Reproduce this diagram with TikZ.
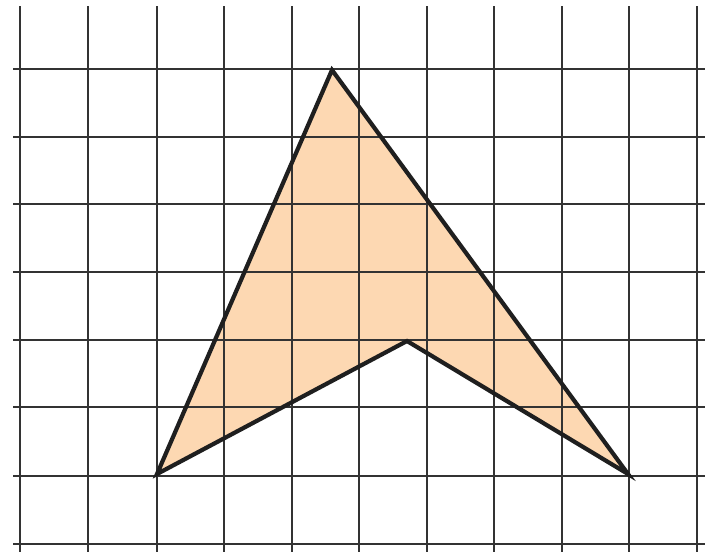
\documentclass[tikz,border=0pt]{standalone}
\begin{document}
\begin{tikzpicture}[x=1pt,y=-1pt,
  gridline/.style={line width=1.7pt,color=black!80},
  arrowfill/.style={fill={rgb,255:red,253;green,216;blue,178}},
  arrowedge/.style={line width=4.2pt,color=black!88,line join=miter}]
\useasboundingbox (0,0) rectangle (710,552);
\coordinate (T) at (332,70);
\coordinate (L) at (157,474);
\coordinate (M) at (407,341);
\coordinate (R) at (628,474);
\fill[arrowfill] (T) -- (R) -- (M) -- (L) -- cycle;
\foreach \x in {20,88,157,224,292,359,427,494,562,629,697}
  \draw[gridline] (\x,6) -- (\x,552);
\foreach \y in {69,137,204,272,340,407,476,544}
  \draw[gridline] (13,\y) -- (705,\y);
\draw[arrowedge] (T) -- (R) -- (M) -- (L) -- cycle;
\end{tikzpicture}
\end{document}
